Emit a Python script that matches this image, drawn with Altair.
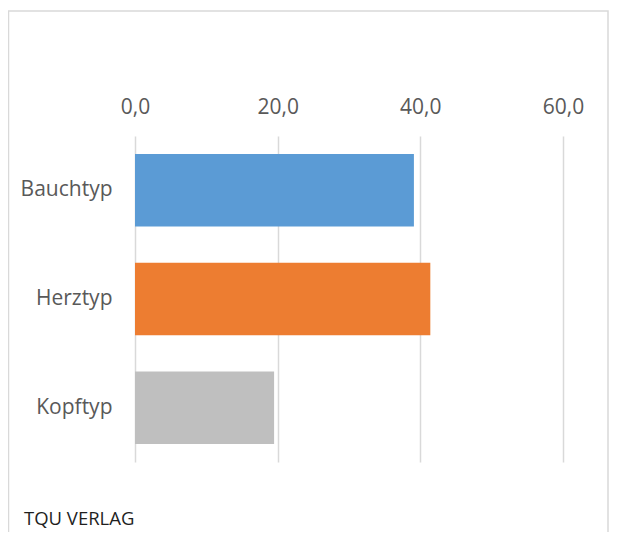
import altair as alt
import pandas as pd

categories = ["Bauchtyp", "Herztyp", "Kopftyp"]
values = [39.1, 41.4, 19.5]
colors = ["#5B9BD5", "#ED7D31", "#BFBFBF"]
x_ticks = [0, 20, 40, 60]
footer_text = ["TQU VERLAG"]

df = pd.DataFrame({"Typ": categories, "Wert": values})

FONT = "Open Sans"

bars = alt.Chart(df).mark_bar().encode(
    y=alt.Y(
        "Typ:N",
        sort=categories,
        title=None,
        scale=alt.Scale(paddingInner=1 / 3, paddingOuter=1 / 6),
        axis=alt.Axis(
            orient="left", domain=False, ticks=False, grid=False,
            labelPadding=23, labelFont=FONT, labelFontSize=21,
            labelColor="#595959",
        ),
    ),
    x=alt.X(
        "Wert:Q",
        title=None,
        scale=alt.Scale(domain=[0, 60], nice=False),
        axis=alt.Axis(
            orient="top", values=x_ticks, domain=False, ticks=False,
            grid=True, gridColor="#D9D9D9", gridWidth=1.5,
            labelExpr="replace(format(datum.value, '.1f'), '.', ',')",
            labelFlush=False, labelAlign="center",
            labelPadding=23, labelBaseline="alphabetic",
            labelFont=FONT, labelFontSize=21, labelColor="#595959",
        ),
    ),
    color=alt.Color("Typ:N", scale=alt.Scale(domain=categories, range=colors), legend=None),
)

frame = alt.Chart(pd.DataFrame({"k": [0]})).mark_rect(
    fillOpacity=0, stroke="#D9D9D9", strokeWidth=1.5
).encode(
    x=alt.value(-126.5), x2=alt.value(473), y=alt.value(-125), y2=alt.value(440)
)

footer = alt.Chart(pd.DataFrame({"t": footer_text})).mark_text(
    align="left", baseline="alphabetic", font=FONT, fontSize=18.5, color="#1F1F1F"
).encode(text="t:N", x=alt.value(-111), y=alt.value(389))

chart = alt.layer(frame, bars, footer).properties(
    width=428,
    height=326,
    autosize=alt.AutoSizeParams(type="none"),
    padding={"left": 127, "top": 128, "right": 46, "bottom": 70},
    background="white",
).configure_view(strokeWidth=0)

chart.save("out.html", embed_options={"renderer": "svg", "actions": False})
